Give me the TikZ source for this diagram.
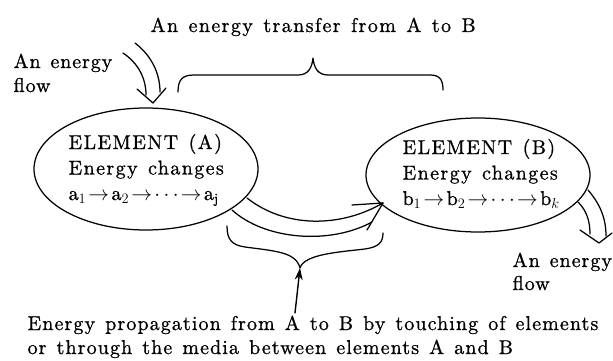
\documentclass[tikz,border=0pt]{standalone}
\usepackage{fontspec}
\setmainfont{lmroman10-regular.otf}[LetterSpace=7, WordSpace=1.3, FakeBold=0.9]
\usetikzlibrary{shapes.geometric, arrows.meta}
\newcommand{\rarr}{\mkern2mu{\rightarrow}\mkern2mu}
\newcommand{\mydots}{{\cdots}}
\begin{document}
\begin{tikzpicture}[x=1pt, y=-1pt, line width=1.25pt, line cap=round, line join=round,
  txt/.style={font=\fontsize{20}{24}\selectfont, inner sep=0pt, align=left},
  elem/.style={ellipse, draw, inner sep=0pt},
  elemtxt/.style={font=\fontsize{20}{25.5}\selectfont, inner sep=0pt, align=left},
  flowline/.style={line width=1.25pt},
  bracepath/.style={line width=1.25pt},
]
\useasboundingbox (0,0) rectangle (613,361);

% elements
\node[elem, minimum width=224pt, minimum height=122pt] (A) at (146,169) {};
\node[elem, minimum width=224pt, minimum height=114pt] (B) at (478,175) {};
\node[elemtxt, anchor=base west] (Atxt) at (68,200)
  {ELEMENT (A)\\Energy changes\\a$_1\rarr$a$_2\rarr\mydots\rarr$a$_{\mathrm{j}}$};
\node[elemtxt, anchor=base west] (Btxt) at (402,205)
  {ELEMENT (B)\\Energy changes\\b$_1\rarr$b$_2\rarr\mydots\rarr$b$_k$};

% texts
\node[txt, anchor=base west] (ttop) at (150,32) {An energy transfer from A to B};
\node[txt, anchor=base west, font=\fontsize{20}{24}\selectfont\addfontfeatures{LetterSpace=4.5}] (tin) at (13,92) {An energy\\flow};
\node[txt, anchor=base west, font=\fontsize{20}{23}\selectfont\addfontfeatures{LetterSpace=5}] (tout) at (512,290) {An energy\\flow};
\node[txt, anchor=base west, font=\fontsize{20}{24}\selectfont\addfontfeatures{LetterSpace=5.5}] (tbot) at (27,354) {Energy propagation from A to B by touching of elements\\or through the media between elements A and B};

% incoming energy flow (hollow arrow)
\coordinate (inL) at (123,53);
\coordinate (inR) at (135,43);
\coordinate (inT) at (153,103);
\draw[flowline] (inL) .. controls (138,63) and (146,78) .. (146,95);
\draw[flowline] (inR) .. controls (152,56) and (160,74) .. (160,92);
\draw[flowline] (137,89) -- (inT) -- (166,88);

% top brace
\coordinate (tbL) at (178,92);
\coordinate (tbT) at (313,58);
\coordinate (tbR) at (443,90);
\draw[bracepath] (tbL) .. controls (178,80) and (182,75) .. (194,75) -- (298,75)
  .. controls (308,75) and (312,68) .. (tbT)
  .. controls (314,68) and (318,75) .. (328,75) -- (430,75)
  .. controls (440,75) and (443,80) .. (tbR);

% propagation A -> B (hollow arrow)
\coordinate (pU) at (247,198);
\coordinate (pL) at (232,210);
\coordinate (pT) at (383,203);
\draw[flowline] (pU) .. controls (285,228) and (340,228) .. (pT);
\draw[flowline] (pL) .. controls (265,240) and (330,245) .. (372,222);
\draw[flowline] (352,205) -- (pT) -- (367,230);

% bottom brace
\coordinate (bbL) at (227,226);
\coordinate (bbT) at (300,268);
\coordinate (bbR) at (383,233);
\draw[bracepath] (bbL) .. controls (227,240) and (232,245) .. (245,247)
  .. controls (275,251) and (296,252) .. (bbT)
  .. controls (304,254) and (340,252) .. (365,249)
  .. controls (378,247) and (383,243) .. (bbR);

% pointer arrow
\coordinate (pa) at (295,313);
\draw[line width=1.4pt, -{Stealth[length=12pt, width=8pt]}] (pa) -- (bbT);

% outgoing energy flow (hollow arrow)
\coordinate (oL) at (578,202);
\coordinate (oR) at (588,190);
\coordinate (oT) at (599,243);
\draw[flowline] (oL) .. controls (586,210) and (590,220) .. (590,234);
\draw[flowline] (oR) .. controls (600,204) and (606,218) .. (606,236);
\draw[flowline] (580,230) -- (oT) -- (612,233);
\end{tikzpicture}
\end{document}
